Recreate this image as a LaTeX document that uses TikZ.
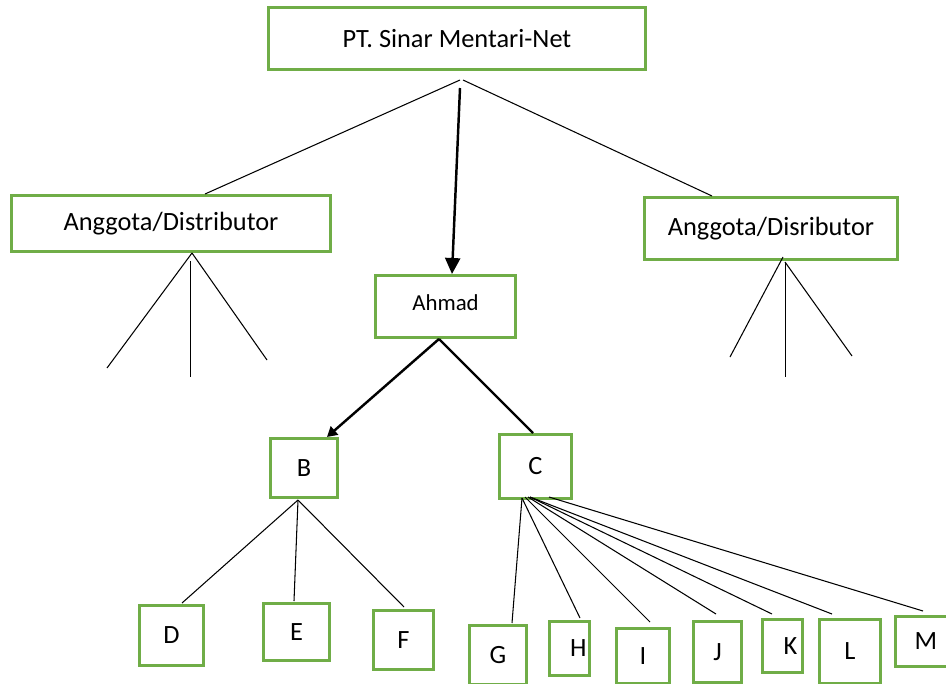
\documentclass[tikz,border=0pt]{standalone}
\usepackage{fontspec}
\setmainfont{Carlito}
\usepackage{tikz}
\usetikzlibrary{arrows.meta}
\usetikzlibrary{calc}

\definecolor{boxgreen}{RGB}{112,173,71}

\begin{document}
\begin{tikzpicture}[x=0.02cm, y=-0.02cm]
\tikzstyle{box} = [draw=boxgreen, line width=0.06cm, inner sep=0pt, font=\fontsize{15}{18}\selectfont]
\tikzstyle{sz} = [minimum width=#1*0.02cm-0.06cm]
\tikzstyle{ht} = [minimum height=#1*0.02cm-0.06cm]
\tikzstyle{thin edge} = [draw=black, line width=0.6pt]
\tikzstyle{thick edge} = [draw=black, line width=1.4pt]

\useasboundingbox (0,0) rectangle (946,683);

\node[box, sz=380, ht=65] (PT) at (457,38.5) {PT. Sinar Mentari-Net};
\node[box, sz=322, ht=59] (distL) at (171,223.5) {Anggota/Distributor};
\node[box, sz=256, ht=65] (distR) at (771,228.5) {Anggota/Disributor};
\node[box, sz=143, ht=65, font=\fontsize{13}{16}\selectfont] (Ahmad) at (445.5,306.5) {\raisebox{5pt}{Ahmad}};
\node[box, sz=70, ht=62] (B) at (304,468) {B};
\node[box, sz=75, ht=67] (C) at (535.5,466.5) {C};
\node[box, sz=67, ht=63] (D) at (171.5,635.5) {D};
\node[box, sz=69, ht=60] (E) at (296.5,632) {E};
\node[box, sz=63, ht=62] (F) at (403.5,640) {F};
\node[box, sz=60, ht=62] (G) at (498,655) {G};
\node[box, sz=43, ht=57] (H) at (569.5,648.5) {\hspace{10pt}H};
\node[box, sz=56, ht=58] (I) at (643,656) {I};
\node[box, sz=51, ht=64] (J) at (717.5,652) {J};
\node[box, sz=43, ht=56] (K) at (782.5,646) {\hspace{9pt}K};
\node[box, sz=64, ht=67] (L) at (850,651.5) {L};
\node[box, sz=64, ht=53] (M) at (926,641.5) {M};

% top level
\coordinate (topfork) at (460,80);
\coordinate (topstem) at (460,88);
\path[thin edge] (topfork) -- ($(distL.north)+(34,0)$);
\path[thin edge] ($(topfork)+(3,0)$) -- ($(distR.north)+(-59,0)$);
\draw[thick edge, -{Triangle[length=0.32cm, width=0.3cm]}] (topstem) -- ($(Ahmad.north)+(6.5,0)$);

% left distributor
\coordinate (dL1) at (107,368);
\coordinate (dL2) at (190.5,377);
\coordinate (dL3) at (267,360);
\path[thin edge] ($(distL.south)+(21,0)$) -- (dL1);
\path[thin edge] ($(distL.south)+(19.5,8)$) -- (dL2);
\path[thin edge] ($(distL.south)+(21,0)$) -- (dL3);

% right distributor
\coordinate (dR1) at (730,357);
\coordinate (dR2) at (785.5,377);
\coordinate (dR3) at (852,356);
\path[thin edge] ($(distR.south)+(12,-4)$) -- (dR1);
\path[thin edge] ($(distR.south)+(14.5,1)$) -- (dR2);
\path[thin edge] ($(distR.south)+(14,1)$) -- (dR3);

% Ahmad
\draw[thick edge, -{Triangle[length=0.2cm, width=0.22cm]}] ($(Ahmad.south)+(-6.5,0)$) -- ($(B.north)+(23,0)$);
\path[thick edge] ($(Ahmad.south)+(-6.5,0)$) -- ($(C.north)+(-2.5,0)$);

% B
\path[thin edge] ($(B.south)+(-6,1)$) -- ($(D.north)+(10.5,-1)$);
\path[thin edge] ($(B.south)+(-6,1)$) -- ($(E.north)+(-2.5,-1)$);
\path[thin edge] ($(B.south)+(-6,1)$) -- ($(F.north)+(0.5,-2)$);

% C
\path[thin edge] ($(C.south)+(-13.5,-2)$) -- ($(G.north)+(14,-1)$);
\path[thin edge] ($(C.south)+(-13.5,-2)$) -- ($(H.north)+(10.5,-2)$);
\path[thin edge] ($(C.south)+(-10.5,-3)$) -- ($(I.north)+(7,-5)$);
\path[thin edge] ($(C.south)+(-7.5,-3)$) -- ($(J.north)+(-1.5,-6)$);
\path[thin edge] ($(C.south)+(-5.5,-3)$) -- ($(K.north)+(-10.5,-4)$);
\path[thin edge] ($(C.south)+(-5.5,-3)$) -- ($(L.north)+(-18,-4)$);
\path[thin edge] ($(C.south)+(13.5,-3)$) -- ($(M.north)+(-3,-4)$);
\end{tikzpicture}
\end{document}
